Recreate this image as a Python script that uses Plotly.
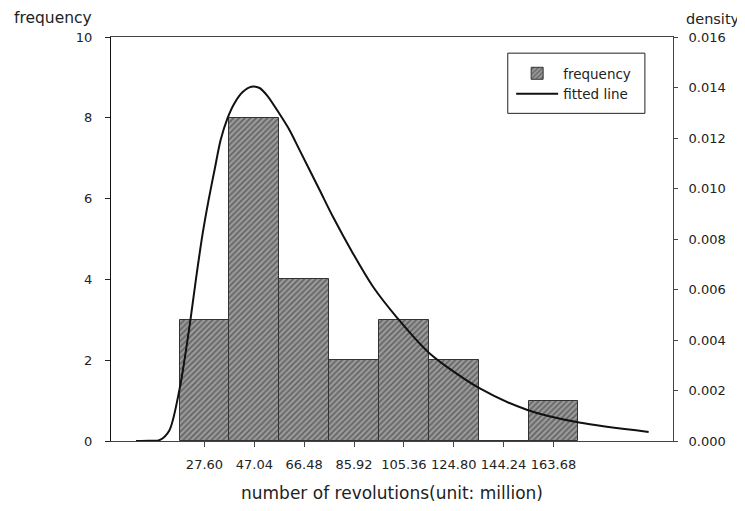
import plotly.graph_objects as go

# ---- data ----
bin_centers = [27.60, 47.04, 66.48, 85.92, 105.36, 124.80, 144.24, 163.68]
tick_labels = ["27.60", "47.04", "66.48", "85.92", "105.36", "124.80", "144.24", "163.68"]
frequency = [3, 8, 4, 2, 3, 2, 0, 1]
bin_width = 19.44

curve_x = [0.9, 6.1, 10.0, 13.9, 17.8, 19.8, 22.1, 24.4, 26.9, 29.2, 31.5, 33.9,
           36.6, 39.3, 42.5, 45.9, 49.1, 52.2, 56.9, 60.8, 64.7, 72.5, 77.7,
           85.5, 93.4, 102.5, 115.2, 135.0, 153.8, 173.7, 200.8]
curve_density = [0.0, 0.00001, 0.00003, 0.00042, 0.00201, 0.00320, 0.00478, 0.00650,
                 0.00822, 0.00954, 0.01072, 0.01192, 0.01279, 0.01338, 0.01382,
                 0.01403, 0.01398, 0.01366, 0.01295, 0.01231, 0.01152, 0.00994,
                 0.00888, 0.00743, 0.00610, 0.00491, 0.00349, 0.00208, 0.00122,
                 0.00073, 0.00036]

FONT = "DejaVu Sans"
TXT = "#222222"

fig = go.Figure()
fig.add_trace(go.Bar(
    x=bin_centers, y=frequency, width=bin_width, name="frequency",
    marker=dict(color="#9a9a9a", line=dict(color="#333333", width=1),
                pattern=dict(shape="/", fillmode="overlay", fgcolor="#2a2a2a",
                             size=4, solidity=0.4)),
    yaxis="y"))
fig.add_trace(go.Scatter(
    x=curve_x, y=curve_density, mode="lines", name="fitted line",
    line=dict(color="#111111", width=2, shape="spline", smoothing=0.8),
    yaxis="y2"))

# page has an 8px body margin: figure origin sits at (8, 8)
fig.update_layout(
    width=737, height=495,
    margin=dict(l=103, r=72, t=29, b=62.3, autoexpand=False),
    plot_bgcolor="white", paper_bgcolor="white",
    font=dict(family=FONT, size=13, color=TXT),
    bargap=0,
    showlegend=True,
    legend=dict(x=0.712, y=0.948, xanchor="left", yanchor="top",
                borderwidth=0, bgcolor="rgba(0,0,0,0)",
                font=dict(family=FONT, size=13.5, color=TXT),
                itemwidth=42),
    shapes=[dict(type="rect", xref="paper", yref="paper",
                 x0=0.706, x1=0.950, y0=0.811, y1=0.960,
                 line=dict(color="#222222", width=1), fillcolor="rgba(0,0,0,0)")],
    xaxis=dict(range=[-8.85, 210.3], tickmode="array", tickvals=bin_centers,
               ticktext=tick_labels, ticks="outside", ticklen=5,
               tickcolor="#444444", showline=True, linecolor="#444444",
               mirror=True, showgrid=False, zeroline=False, automargin=False,
               ticklabelstandoff=6,
               title=dict(text="number of revolutions(unit: million)",
                          font=dict(family=FONT, size=17, color=TXT), standoff=23)),
    yaxis=dict(range=[0, 10], tickvals=[0, 2, 4, 6, 8, 10], ticks="outside",
               ticklen=5, tickcolor="#222222", showline=True, linecolor="#111111",
               showgrid=False, zeroline=False, automargin=False, ticklabelstandoff=10),
    yaxis2=dict(range=[0, 0.016], overlaying="y", side="right",
                tickvals=[0, 0.002, 0.004, 0.006, 0.008, 0.010, 0.012, 0.014, 0.016],
                ticktext=["0.000", "0.002", "0.004", "0.006", "0.008", "0.010",
                          "0.012", "0.014", "0.016"],
                ticks="outside", ticklen=4, tickcolor="#444444", showline=True,
                linecolor="#444444", showgrid=False, zeroline=False, automargin=False,
                ticklabelstandoff=8),
    annotations=[
        dict(text="frequency", xref="paper", yref="paper", x=-0.177, y=1.0,
             xanchor="left", yanchor="bottom", showarrow=False, yshift=8,
             font=dict(family=FONT, size=15.5, color=TXT)),
        dict(text="density", xref="paper", yref="paper", x=1.0, y=1.0,
             xanchor="left", yanchor="bottom", showarrow=False, xshift=11, yshift=8,
             font=dict(family=FONT, size=14.5, color=TXT)),
    ],
)

fig.write_html("out.html")
